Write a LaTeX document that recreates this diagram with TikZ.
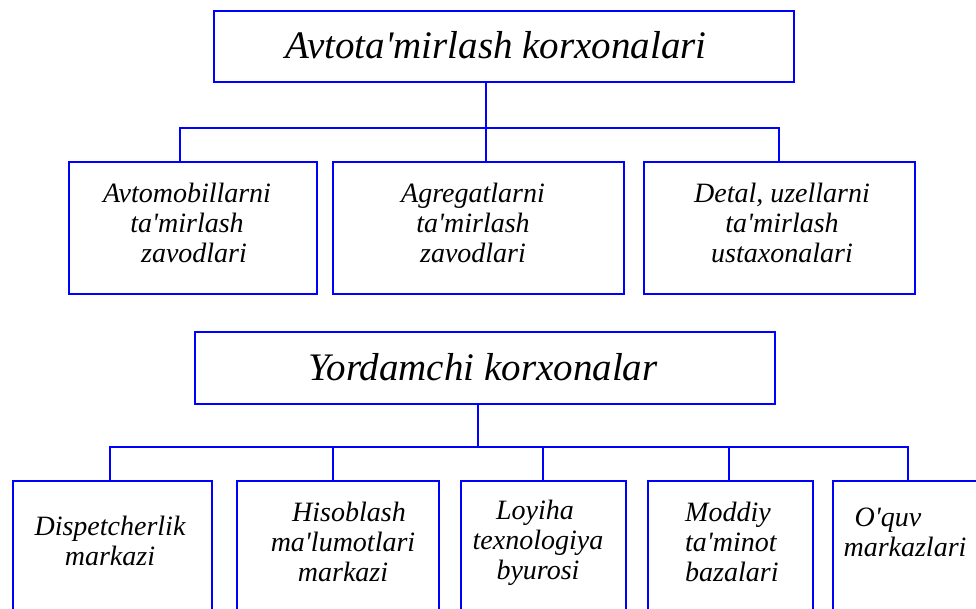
\documentclass[tikz,border=0pt]{standalone}
\usepackage{fontspec}
\setmainfont{Liberation Serif}[Ligatures=TeXOff, ItalicFont={Liberation Serif Italic}]
\usetikzlibrary{calc}
\begin{document}
\begin{tikzpicture}[x=1pt,y=-1pt,
  box/.style={draw=blue, line width=2pt, fill=white, inner sep=0pt, anchor=north west},
  link/.style={draw=blue, line width=2pt},
  headtext/.style={font=\itshape\fontsize{39}{42}\selectfont, inner sep=0pt},
  celltext/.style={font=\itshape\fontsize{28}{30}\selectfont, inner sep=0pt, align=center}]
\useasboundingbox (0,0) rectangle (976,609);
\clip (0,0) rectangle (976,609);
\fill[white] (0,0) rectangle (976,609);

% upper tree
\node[box, minimum width=580pt, minimum height=71pt] (top) at (213,10) {};
\node[box, minimum width=248pt, minimum height=132pt] (a1) at (68,161) {};
\node[box, minimum width=291pt, minimum height=132pt] (a2) at (332,161) {};
\node[box, minimum width=271pt, minimum height=132pt] (a3) at (643,161) {};

\node[headtext] (topt) at (496,45) {Avtota'mirlash korxonalari};
\node[celltext] (a1t) at (187,223) {Avtomobillarni\\ta'mirlash\\\hspace*{14pt}zavodlari};
\node[celltext] (a2t) at (473,223) {Agregatlarni\\ta'mirlash\hspace*{14pt}\\zavodlari};
\node[celltext] (a3t) at (782,223) {Detal, uzellarni\\ta'mirlash\\ustaxonalari};

\coordinate (busA) at (0,128);
\coordinate (topdrop) at ($(top.south)+(-18,0)$);
\coordinate (a1in) at ($(a1.north)+(-13,0)$);
\coordinate (a3in) at ($(a3.north)+(-1,0)$);
\draw[link] (topdrop) -- (topdrop |- a2.north);
\draw[link] (a1in) -- (a1in |- busA) -- (a3in |- busA) -- (a3in);

% lower tree
\node[box, minimum width=580pt, minimum height=72pt] (sub) at (194,331) {};
\node[box, minimum width=199pt, minimum height=160pt] (d1) at (12,480) {};
\node[box, minimum width=202pt, minimum height=160pt] (d2) at (236,480) {};
\node[box, minimum width=165pt, minimum height=160pt] (d3) at (460,480) {};
\node[box, minimum width=165pt, minimum height=160pt] (d4) at (647,480) {};
\node[box, minimum width=150pt, minimum height=160pt] (d5) at (832,480) {};

\node[headtext] (subt) at (483,367) {Yordamchi korxonalar};
\node[celltext] (d1t) at (110,541) {Dispetcherlik\\markazi};
\node[celltext] (d2t) at (343,542) {\hspace*{12pt}Hisoblash\\ma'lumotlari\\markazi};
\node[celltext] (d3t) at (538,543) {Loyiha\hspace*{6pt}\\texnologiya\\byurosi};
\node[celltext, align=left, anchor=west] (d4t) at (685,542) {Moddiy\\ta'minot\\bazalari};
\node[celltext] (d5t) at (905,532) {O'quv\hspace*{34pt}\\markazlari};

\coordinate (busB) at (0,447);
\coordinate (subdrop) at ($(sub.south)+(-7,0)$);
\coordinate (d1in) at ($(d1.north)+(-3,0)$);
\coordinate (d2in) at ($(d2.north)+(-5,0)$);
\coordinate (d3in) at ($(d3.north)+(-1,0)$);
\coordinate (d4in) at ($(d4.north)+(-2,0)$);
\draw[link] (subdrop) -- (subdrop |- busB);
\draw[link] (d1in) -- (d1in |- busB) -- (d5.north |- busB) -- (d5.north);
\draw[link] (d2in) -- (d2in |- busB);
\draw[link] (d3in) -- (d3in |- busB);
\draw[link] (d4in) -- (d4in |- busB);
\end{tikzpicture}
\end{document}
